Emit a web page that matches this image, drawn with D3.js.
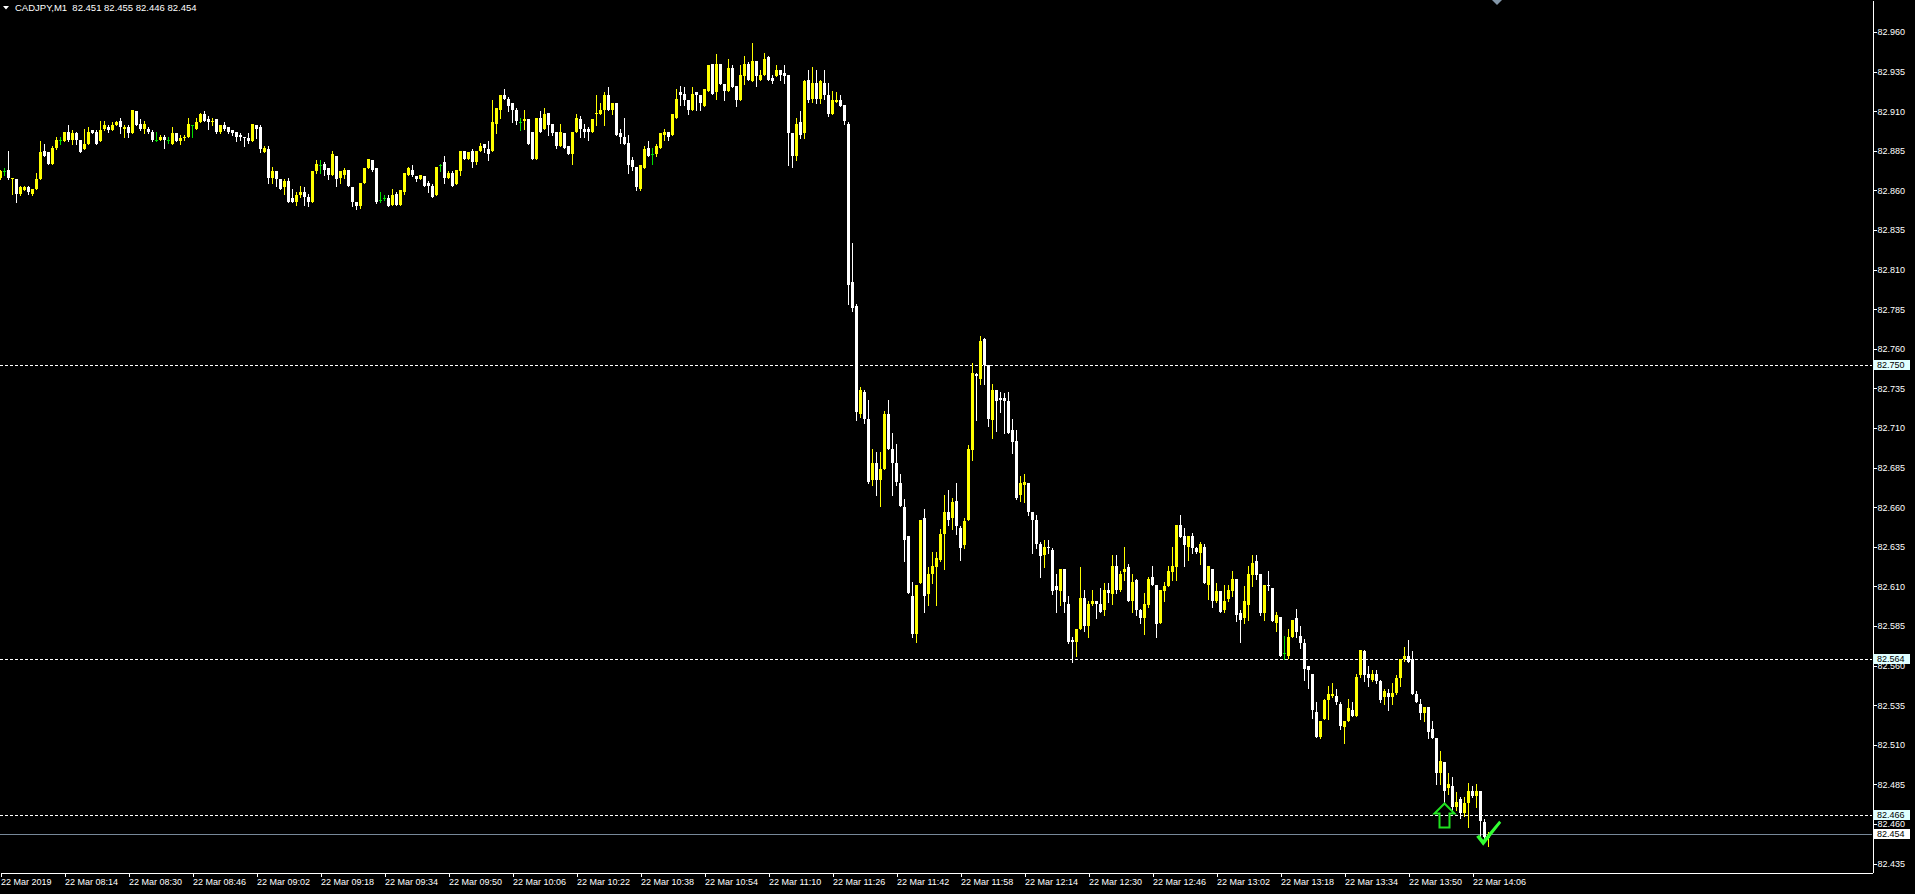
<!DOCTYPE html>
<html><head><meta charset="utf-8">
<script src="https://cdn.jsdelivr.net/npm/d3@7"></script>
<style>html,body{margin:0;padding:0;background:#000;overflow:hidden}svg{display:block}</style>
</head><body><svg id="c" width="1915" height="894"></svg>
<script>
const symbol = "CADJPY,M1";
const opens = [
82.868,82.872,82.873,82.867,82.867,82.858,82.860,82.862,82.858,82.861,
82.867,82.885,82.884,82.877,82.887,82.892,82.891,82.897,82.892,82.896,
82.892,82.886,82.889,82.898,82.897,82.891,82.899,82.900,82.898,82.901,
82.904,82.899,82.900,82.896,82.910,82.902,82.899,82.899,82.897,82.892,
82.892,82.894,82.892,82.889,82.896,82.891,82.893,82.894,82.901,82.899,
82.903,82.908,82.905,82.903,82.905,82.897,82.901,82.900,82.898,82.897,
82.895,82.894,82.893,82.891,82.901,82.900,82.884,82.886,82.868,82.872,
82.867,82.862,82.866,82.855,82.853,82.857,82.859,82.856,82.853,82.872,
82.876,82.877,82.874,82.870,82.882,82.868,82.870,82.873,82.862,82.853,
82.850,82.865,82.874,82.879,82.874,82.854,82.855,82.855,82.851,82.858,
82.851,82.859,82.870,82.873,82.869,82.867,82.869,82.865,82.863,82.857,
82.876,82.878,82.868,82.871,82.864,82.872,82.885,82.880,82.885,82.878,
82.885,82.889,82.886,82.885,82.902,82.911,82.920,82.918,82.915,82.911,
82.903,82.904,82.905,82.897,82.880,82.906,82.899,82.909,82.902,82.897,
82.888,82.896,82.888,82.883,82.897,82.905,82.899,82.899,82.897,82.908,
82.908,82.911,82.920,82.911,82.915,82.896,82.894,82.890,82.879,82.875,
82.861,82.874,82.887,82.883,82.883,82.887,82.895,82.897,82.895,82.906,
82.922,82.921,82.917,82.911,82.922,82.920,82.913,82.923,82.940,82.922,
82.940,82.927,82.923,82.937,82.926,82.917,82.932,82.940,82.929,82.942,
82.930,82.933,82.944,82.931,82.932,82.936,82.934,82.933,82.896,82.882,
82.903,82.896,82.930,82.918,82.928,82.918,82.928,82.920,82.908,82.916,
82.917,82.914,82.902,82.802,82.787,82.719,82.733,82.716,82.677,82.688,
82.677,82.684,82.719,82.697,82.688,82.675,82.660,82.642,82.604,82.580,
82.612,82.653,82.605,82.618,82.622,82.627,82.643,82.657,82.653,82.664,
82.647,82.636,82.652,82.696,82.744,82.741,82.766,82.750,82.715,82.734,
82.729,82.729,82.727,82.709,82.702,82.668,82.674,82.675,82.657,82.652,
82.637,82.630,82.635,82.633,82.610,82.607,82.621,82.599,82.576,82.575,
82.583,82.603,82.585,82.599,82.601,82.599,82.595,82.608,82.605,82.623,
82.608,82.619,82.622,82.601,82.614,82.595,82.590,82.598,82.616,82.611,
82.587,82.607,82.610,82.619,82.622,82.649,82.642,82.635,82.642,82.634,
82.631,82.635,82.611,82.621,82.601,82.607,82.595,82.602,82.607,82.615,
82.593,82.590,82.598,82.617,82.626,82.618,82.593,82.611,82.609,82.587,
82.591,82.568,82.566,82.578,82.590,82.579,82.574,82.560,82.555,82.531,
82.515,82.526,82.538,82.541,82.541,82.536,82.521,82.525,82.532,82.528,
82.554,82.569,82.555,82.551,82.555,82.550,82.540,82.543,82.540,82.543,
82.552,82.564,82.566,82.564,82.542,82.536,82.530,82.534,82.520,82.514,
82.492,82.499,82.483,82.484,82.471,82.476,82.467,82.473,82.481,82.478,
82.481,82.461,82.451];
const highs = [
82.873,82.874,82.885,82.868,82.867,82.863,82.863,82.863,82.861,82.871,
82.891,82.889,82.884,82.888,82.894,82.894,82.897,82.901,82.898,82.897,
82.892,82.899,82.900,82.898,82.898,82.904,82.904,82.901,82.903,82.904,
82.906,82.901,82.901,82.911,82.910,82.905,82.904,82.900,82.898,82.897,
82.895,82.895,82.894,82.900,82.896,82.895,82.895,82.906,82.901,82.906,
82.909,82.910,82.907,82.906,82.905,82.901,82.903,82.900,82.898,82.897,
82.896,82.894,82.896,82.902,82.901,82.901,82.888,82.888,82.875,82.872,
82.867,82.867,82.868,82.861,82.859,82.863,82.862,82.858,82.872,82.879,
82.879,82.878,82.874,82.885,82.882,82.872,82.874,82.873,82.862,82.853,
82.865,82.874,82.880,82.879,82.874,82.859,82.857,82.857,82.861,82.859,
82.860,82.871,82.875,82.876,82.869,82.870,82.869,82.866,82.864,82.875,
82.877,82.882,82.872,82.872,82.873,82.885,82.885,82.884,82.886,82.885,
82.890,82.889,82.891,82.917,82.912,82.920,82.924,82.919,82.915,82.912,
82.906,82.911,82.905,82.897,82.906,82.910,82.912,82.909,82.902,82.897,
82.902,82.896,82.888,82.897,82.908,82.907,82.902,82.900,82.905,82.920,
82.915,82.922,82.925,82.915,82.915,82.899,82.906,82.895,82.881,82.875,
82.876,82.888,82.891,82.887,82.889,82.896,82.899,82.897,82.908,82.924,
82.926,82.925,82.917,82.925,82.922,82.920,82.924,82.939,82.940,82.946,
82.940,82.927,82.943,82.939,82.926,82.939,82.945,82.941,82.953,82.942,
82.936,82.947,82.945,82.933,82.939,82.936,82.939,82.933,82.896,82.906,
82.910,82.930,82.936,82.938,82.936,82.930,82.936,82.928,82.923,82.922,
82.920,82.914,82.903,82.827,82.788,82.736,82.734,82.728,82.697,82.695,
82.695,82.721,82.728,82.707,82.700,82.681,82.665,82.642,82.613,82.611,
82.652,82.659,82.622,82.632,82.632,82.646,82.668,82.671,82.666,82.675,
82.648,82.653,82.699,82.751,82.745,82.768,82.767,82.750,82.738,82.734,
82.733,82.732,82.733,82.716,82.709,82.680,82.681,82.675,82.657,82.655,
82.638,82.639,82.639,82.634,82.618,82.621,82.621,82.604,82.578,82.583,
82.622,82.608,82.601,82.608,82.601,82.609,82.612,82.612,82.630,82.630,
82.620,82.635,82.624,82.618,82.615,82.596,82.606,82.616,82.623,82.611,
82.608,82.613,82.623,82.635,82.649,82.655,82.647,82.642,82.644,82.635,
82.638,82.637,82.623,82.621,82.612,82.607,82.611,82.611,82.620,82.615,
82.595,82.610,82.623,82.630,82.630,82.618,82.611,82.620,82.609,82.594,
82.591,82.579,82.583,82.589,82.596,82.585,82.577,82.560,82.555,82.537,
82.525,82.539,82.547,82.549,82.545,82.537,82.525,82.539,82.537,82.555,
82.570,82.570,82.560,82.557,82.557,82.551,82.545,82.545,82.549,82.554,
82.564,82.572,82.576,82.569,82.544,82.539,82.534,82.534,82.525,82.514,
82.506,82.499,82.492,82.490,82.480,82.477,82.477,82.486,82.484,82.485,
82.481,82.463,82.455];
const lows = [
82.867,82.870,82.867,82.858,82.853,82.857,82.860,82.858,82.857,82.861,
82.867,82.882,82.877,82.877,82.886,82.889,82.891,82.891,82.889,82.889,
82.884,82.886,82.889,82.896,82.889,82.891,82.898,82.897,82.898,82.901,
82.896,82.894,82.894,82.896,82.901,82.898,82.896,82.896,82.891,82.891,
82.892,82.887,82.890,82.889,82.891,82.889,82.892,82.894,82.894,82.899,
82.903,82.904,82.899,82.901,82.896,82.896,82.898,82.896,82.895,82.891,
82.892,82.888,82.890,82.891,82.893,82.884,82.884,82.865,82.865,82.863,
82.861,82.858,82.853,82.853,82.851,82.856,82.851,82.850,82.853,82.871,
82.871,82.870,82.867,82.870,82.863,82.865,82.868,82.863,82.850,82.848,
82.849,82.865,82.874,82.872,82.852,82.853,82.854,82.850,82.851,82.851,
82.851,82.858,82.870,82.869,82.866,82.867,82.863,82.859,82.856,82.857,
82.872,82.865,82.868,82.863,82.864,82.870,82.880,82.880,82.875,82.877,
82.885,82.884,82.879,82.885,82.896,82.906,82.918,82.910,82.903,82.902,
82.898,82.899,82.889,82.880,82.880,82.897,82.899,82.895,82.895,82.887,
82.888,82.887,82.883,82.877,82.897,82.894,82.894,82.892,82.897,82.901,
82.908,82.901,82.911,82.908,82.895,82.890,82.889,82.871,82.873,82.860,
82.860,82.874,82.882,82.877,82.882,82.887,82.892,82.892,82.895,82.906,
82.914,82.914,82.908,82.911,82.911,82.911,82.913,82.923,82.921,82.918,
82.927,82.917,82.923,82.925,82.913,82.917,82.927,82.930,82.929,82.926,
82.930,82.933,82.930,82.928,82.932,82.930,82.928,82.876,82.875,82.879,
82.893,82.893,82.916,82.916,82.915,82.915,82.918,82.907,82.908,82.916,
82.913,82.902,82.788,82.784,82.715,82.717,82.713,82.675,82.674,82.668,
82.661,82.684,82.697,82.668,82.674,82.661,82.626,82.606,82.578,82.575,
82.612,82.594,82.598,82.612,82.598,82.626,82.621,82.649,82.646,82.643,
82.627,82.634,82.652,82.690,82.715,82.738,82.738,82.711,82.704,82.708,
82.720,82.707,82.707,82.694,82.665,82.664,82.663,82.655,82.631,82.634,
82.616,82.622,82.631,82.605,82.594,82.598,82.594,82.574,82.562,82.566,
82.583,82.582,82.578,82.598,82.590,82.594,82.592,82.600,82.599,82.606,
82.607,82.614,82.601,82.594,82.592,82.587,82.580,82.597,82.611,82.578,
82.587,82.601,82.610,82.614,82.614,82.641,82.623,82.627,82.631,82.631,
82.624,82.612,82.602,82.597,82.600,82.594,82.594,82.601,82.604,82.588,
82.575,82.587,82.589,82.610,82.615,82.592,82.589,82.608,82.588,82.582,
82.566,82.564,82.565,82.578,82.578,82.571,82.551,82.546,82.527,82.515,
82.514,82.526,82.526,82.540,82.536,82.520,82.511,82.525,82.528,82.528,
82.553,82.550,82.547,82.550,82.549,82.537,82.536,82.532,82.536,82.542,
82.547,82.563,82.562,82.542,82.537,82.526,82.525,82.514,82.514,82.485,
82.485,82.474,82.479,82.469,82.469,82.464,82.465,82.458,82.477,82.471,
82.452,82.450,82.446];
const closes = [
82.872,82.872,82.868,82.868,82.858,82.862,82.862,82.859,82.861,82.867,
82.884,82.882,82.877,82.887,82.892,82.892,82.897,82.892,82.896,82.892,
82.884,82.889,82.897,82.896,82.889,82.898,82.901,82.898,82.901,82.903,
82.900,82.900,82.896,82.911,82.901,82.899,82.902,82.897,82.892,82.892,
82.894,82.892,82.892,82.896,82.891,82.893,82.894,82.902,82.901,82.903,
82.908,82.904,82.903,82.904,82.897,82.901,82.899,82.897,82.896,82.894,
82.894,82.893,82.891,82.902,82.899,82.886,82.887,82.868,82.872,82.867,
82.861,82.866,82.853,82.853,82.857,82.859,82.856,82.853,82.872,82.877,
82.876,82.873,82.870,82.883,82.867,82.872,82.873,82.863,82.853,82.850,
82.865,82.874,82.880,82.873,82.853,82.854,82.855,82.850,82.857,82.851,
82.860,82.871,82.874,82.870,82.867,82.870,82.863,82.863,82.856,82.875,
82.876,82.868,82.871,82.863,82.873,82.885,82.880,82.884,82.878,82.885,
82.888,82.887,82.883,82.903,82.912,82.920,82.918,82.913,82.911,82.904,
82.903,82.905,82.889,82.880,82.906,82.897,82.908,82.901,82.896,82.888,
82.897,82.887,82.883,82.897,82.906,82.899,82.897,82.897,82.905,82.909,
82.911,82.920,82.911,82.915,82.895,82.894,82.889,82.876,82.875,82.862,
82.876,82.886,82.882,82.883,82.888,82.896,82.897,82.894,82.908,82.918,
82.920,82.917,82.911,82.921,82.920,82.915,82.924,82.939,82.921,82.940,
82.927,82.923,82.937,82.925,82.917,82.933,82.940,82.930,82.942,82.932,
82.933,82.943,82.930,82.929,82.936,82.933,82.932,82.896,82.882,82.902,
82.895,82.929,82.917,82.928,82.918,82.929,82.920,82.908,82.917,82.917,
82.913,82.904,82.800,82.786,82.720,82.734,82.716,82.676,82.688,82.677,
82.684,82.719,82.697,82.688,82.676,82.661,82.639,82.606,82.580,82.611,
82.652,82.604,82.618,82.623,82.628,82.643,82.657,82.652,82.663,82.648,
82.634,82.651,82.697,82.745,82.743,82.765,82.750,82.716,82.734,82.727,
82.728,82.727,82.707,82.701,82.666,82.675,82.676,82.657,82.652,82.637,
82.629,82.635,82.634,82.607,82.608,82.621,82.600,82.575,82.575,82.583,
82.603,82.585,82.599,82.601,82.599,82.594,82.608,82.606,82.623,82.608,
82.618,82.621,82.601,82.613,82.595,82.590,82.599,82.615,82.611,82.586,
82.608,82.610,82.620,82.623,82.649,82.641,82.636,82.642,82.634,82.632,
82.637,82.612,82.623,82.601,82.607,82.594,82.601,82.608,82.615,82.592,
82.589,82.601,82.618,82.625,82.617,82.593,82.611,82.610,82.588,82.592,
82.566,82.568,82.578,82.589,82.581,82.574,82.558,82.557,82.532,82.515,
82.525,82.538,82.542,82.542,82.537,82.522,82.525,82.533,82.528,82.553,
82.570,82.554,82.552,82.555,82.550,82.538,82.544,82.540,82.543,82.552,
82.564,82.566,82.562,82.542,82.537,82.530,82.534,82.518,82.514,82.492,
82.500,82.481,82.485,82.471,82.474,82.467,82.473,82.481,82.478,82.481,
82.462,82.452,82.454];
const timeTickLabels = ["22 Mar 2019","22 Mar 08:14","22 Mar 08:30","22 Mar 08:46","22 Mar 09:02","22 Mar 09:18","22 Mar 09:34","22 Mar 09:50","22 Mar 10:06","22 Mar 10:22","22 Mar 10:38","22 Mar 10:54","22 Mar 11:10","22 Mar 11:26","22 Mar 11:42","22 Mar 11:58","22 Mar 12:14","22 Mar 12:30","22 Mar 12:46","22 Mar 13:02","22 Mar 13:18","22 Mar 13:34","22 Mar 13:50","22 Mar 14:06"];
const barsPerTimeTick = 16;
const priceTicks = [82.960,82.935,82.910,82.885,82.860,82.835,82.810,82.785,82.760,82.735,82.710,82.685,82.660,82.635,82.610,82.585,82.560,82.535,82.510,82.485,82.460,82.435];
const levelLines = [82.750, 82.564, 82.466];
const bidPrice = 82.454;
const buyArrow = {bar: 361, price: 82.473};
const checkMark = {bar: 370.8, price: 82.447};

const plotW = 1872, plotH = 872, visibleBars = 468;
const svg = d3.select("#c");
svg.append("rect").attr("width",1915).attr("height",894).attr("fill","#000");
const x = d3.scaleLinear().domain([0, visibleBars]).range([0, plotW]);
const y = d3.scaleLinear().domain([82.42972, 82.98022]).range([plotH, 0]);
const FONT = "'Liberation Sans', Arial, sans-serif";

const bars = opens.map((o,i)=>({i,o,h:highs[i],l:lows[i],c:closes[i]}));
const col = d => d.c > d.o ? "#ffff00" : (d.c < d.o ? "#ffffff" : "#00e000");

// level lines
const lv = svg.append("g").attr("shape-rendering","crispEdges");
lv.selectAll("line.lvl").data(levelLines).join("line").attr("class","lvl")
  .attr("x1",0).attr("x2",plotW)
  .attr("y1",d=>Math.round(y(d))+0.5).attr("y2",d=>Math.round(y(d))+0.5)
  .attr("stroke","#ffffff").attr("stroke-width",1).attr("stroke-dasharray","3,2");
lv.append("line").attr("x1",0).attr("x2",plotW)
  .attr("y1",Math.round(y(bidPrice))+0.5).attr("y2",Math.round(y(bidPrice))+0.5)
  .attr("stroke","#778899").attr("stroke-width",1);

// candles
const cg = svg.append("g").attr("shape-rendering","crispEdges");
const cand = cg.selectAll("g.c").data(bars).join("g").attr("class","c");
cand.append("rect")
  .attr("x",d=>x(d.i)).attr("width",1)
  .attr("y",d=>Math.round(y(d.h)))
  .attr("height",d=>Math.round(y(d.l))-Math.round(y(d.h))+1)
  .attr("fill",col);
cand.append("rect")
  .attr("x",d=>x(d.i)-1).attr("width",3)
  .attr("y",d=>Math.round(y(Math.max(d.o,d.c))))
  .attr("height",d=>Math.max(1, Math.round(y(Math.min(d.o,d.c)))-Math.round(y(Math.max(d.o,d.c)))))
  .attr("fill",col);

// right price axis
const ay = svg.append("g").attr("transform",`translate(${plotW+0.5},0)`)
  .call(d3.axisRight(y).tickValues(priceTicks).tickFormat(d3.format(".3f")).tickSize(4).tickSizeOuter(0).tickPadding(1));
ay.selectAll("path,line").attr("stroke","#fff").attr("shape-rendering","crispEdges");
ay.selectAll("text").attr("fill","#fff").style("font-family",FONT).style("font-size","9px");

// bottom time axis
const tickIdx = timeTickLabels.map((_,k)=>k*barsPerTimeTick);
const ax = svg.append("g").attr("transform",`translate(0.5,${plotH+0.5})`)
  .call(d3.axisBottom(x).tickValues(tickIdx).tickFormat((d,k)=>timeTickLabels[k]).tickSize(4).tickSizeOuter(0));
ax.selectAll("path,line").attr("stroke","#fff").attr("shape-rendering","crispEdges");
ax.selectAll("text").attr("fill","#fff").attr("text-anchor","start").attr("x",0).attr("y",6)
  .style("font-family",FONT).style("font-size","9px");

// price labels for level lines and bid
const boxes = levelLines.map(p=>({p,bg:"#e0ffff"})).concat([{p:bidPrice,bg:"#ffffff"}]);
const bx = svg.append("g");
bx.selectAll("rect").data(boxes).join("rect")
  .attr("x",plotW+1).attr("width",37).attr("y",d=>Math.round(y(d.p))-5).attr("height",10)
  .attr("fill",d=>d.bg).attr("shape-rendering","crispEdges");
bx.selectAll("text").data(boxes).join("text")
  .attr("x",plotW+5).attr("y",d=>Math.round(y(d.p))+3.3)
  .attr("fill","#000").style("font-family",FONT).style("font-size","9px")
  .text(d=>d3.format(".3f")(d.p));

// header
const last = bars[bars.length-1];
svg.append("path").attr("d","M3,6 L9,6 L6,9.5 Z").attr("fill","#fff");
svg.append("text").attr("x",15).attr("y",10.5).attr("fill","#fff")
  .style("font-family",FONT).style("font-size","9.5px").style("white-space","pre")
  .text(`${symbol}  ${[last.o,last.h,last.l,last.c].map(d3.format(".3f")).join(" ")}`);

// chart shift marker
const sx = x(bars.length + 1.25);
svg.append("path").attr("d",`M${sx-5},0 L${sx+5},0 L${sx},5 Z`).attr("fill","#8396a8");

// buy arrow (outline)
const axp = x(buyArrow.bar)+0.5, ayp = y(buyArrow.price);
svg.append("path")
  .attr("d",`M${axp},${ayp} L${axp+10},${ayp+10} L${axp+5},${ayp+10} L${axp+5},${ayp+24} L${axp-5},${ayp+24} L${axp-5},${ayp+10} L${axp-10},${ayp+10} Z`)
  .attr("fill","none").attr("stroke","#1fe01f").attr("stroke-width",2);

// check mark
const cx = x(checkMark.bar), cy = y(checkMark.price);
svg.append("path")
  .attr("d",`M${cx-7},${cy-8} L${cx-4},${cy-10} L${cx},${cy-5} L${cx+16},${cy-24} L${cx+18},${cy-22} L${cx},${cy+1} Z`)
  .attr("fill","#33ff33");
</script></body></html>
